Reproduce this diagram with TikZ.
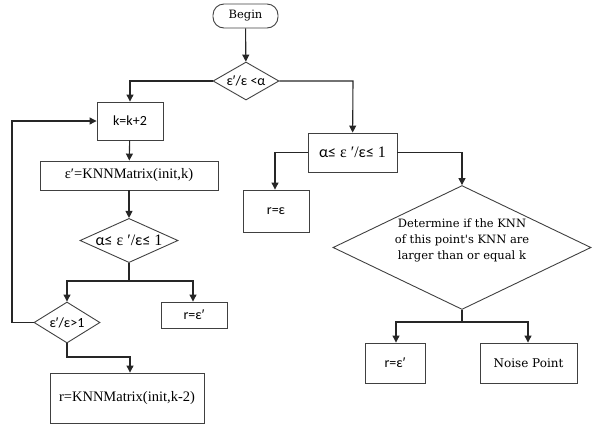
\documentclass[tikz,border=0pt]{standalone}
\usepackage{fontspec}
\setmainfont{Liberation Serif}
\newfontfamily\carlitofnt{Carlito}
\newfontfamily\cambfnt{DejaVu Serif}
\newfontfamily\libsansfnt{Liberation Sans}
\newcommand\myprime{{\libsansfnt ′}}
\usetikzlibrary{shapes.geometric,arrows.meta}
\begin{document}
\begin{tikzpicture}[x=1pt,y=-1pt,
  every node/.style={draw=black!75,line width=0.9pt,inner sep=0pt,align=center},
  box/.style={rectangle},
  dia/.style={diamond,aspect=2},
  sans/.style={font=\carlitofnt\fontsize{14}{16}\selectfont},
  serif/.style={font=\rmfamily\fontsize{14.5}{16}\selectfont},
  cond/.style={font=\rmfamily\fontsize{16}{18}\selectfont},
  conn/.style={line width=1.1pt,draw=black!85},
  arr/.style={conn,-{Triangle[length=7pt,width=7pt]}}]
\useasboundingbox (0,0) rectangle (592,429);
% nodes
\node[rectangle,rounded corners=11pt,minimum width=65pt,minimum height=24pt,font=\cambfnt\fontsize{11.5}{13}\selectfont] (begin) at (245.5,16) {Begin};
\node[dia,minimum width=66pt,minimum height=38pt,sans] (d1) at (246,81) {ε\myprime/ε <α};
\node[box,minimum width=66pt,minimum height=38pt,sans] (k) at (130,121) {k=k+2};
\node[box,minimum width=178pt,minimum height=29pt,serif] (knn) at (129,175.5) {ε′=KNNMatrix(init,k)};
\node[dia,minimum width=98pt,minimum height=40pt,cond] (d2) at (129,240.5) {{\carlitofnt α≤} ε ′/{\carlitofnt ε≤} 1};
\node[dia,minimum width=66pt,minimum height=41pt,sans] (d3) at (67,322.5) {ε\myprime/ε>1};
\node[box,minimum width=66pt,minimum height=26pt,sans] (re1) at (194,315) {r=ε\myprime};
\node[box,minimum width=154pt,minimum height=50pt,serif] (rk) at (127,398) {r=KNNMatrix(init,k-2)};
\node[box,minimum width=89pt,minimum height=39pt,cond] (b2) at (352.5,152.5) {{\carlitofnt α≤} ε ′/{\carlitofnt ε≤} 1};
\node[box,minimum width=66pt,minimum height=42pt,sans] (re) at (276,211) {r=ε};
\node[dia,minimum width=258pt,minimum height=111pt,font=\cambfnt\fontsize{11.5}{16}\selectfont] (big) at (462,247.5) {Determine if the KNN\\ of this point's KNN are\\ larger than or equal k\\ \mbox{}};
\node[box,minimum width=60pt,minimum height=40pt,sans] (re2) at (395,363) {r=ε\myprime};
\node[box,minimum width=97pt,minimum height=40pt,font=\cambfnt\fontsize{12}{14}\selectfont] (noise) at (528.5,363) {Noise Point};
% connectors
\coordinate (jl) at (130,81);
\coordinate (jr) at (353,81);
\coordinate (j2) at (129,281);
\coordinate (j2l) at (67,281);
\coordinate (j2r) at (193,281);
\coordinate (lb) at (12,322.5);
\coordinate (lt) at (12,121);
\coordinate (j3) at (67,357);
\coordinate (j3r) at (130,357);
\coordinate (bl) at (275,152.5);
\coordinate (br) at (462,152.5);
\coordinate (j4) at (462,322);
\coordinate (j4l) at (396,322);
\coordinate (j4r) at (528,322);
\draw[arr] (begin) -- (d1);
\draw[arr] (d1.west) -- (jl) -- (k);
\draw[arr] (d1.east) -- (jr) -- (b2);
\draw[arr] (k) -- (knn);
\draw[arr] (knn.south -| d2) -- (d2);
\draw[conn] (d2.south) -- (j2);
\draw[arr] (j2) -- (j2l) -- (d3);
\draw[arr] (j2) -- (j2r) -- (re1.north -| j2r);
\draw[arr] (d3.west) -- (lb) -- (lt) -- (k.west);
\draw[arr] (d3.south) -- (j3) -- (j3r) -- (rk.north -| j3r);
\draw[arr] (b2.west) -- (bl) -- (re.north -| bl);
\draw[arr] (b2.east) -- (br) -- (big.north);
\draw[conn] (big.south) -- (j4);
\draw[arr] (j4) -- (j4l) -- (re2.north -| j4l);
\draw[arr] (j4) -- (j4r) -- (noise.north -| j4r);
\end{tikzpicture}
\end{document}
